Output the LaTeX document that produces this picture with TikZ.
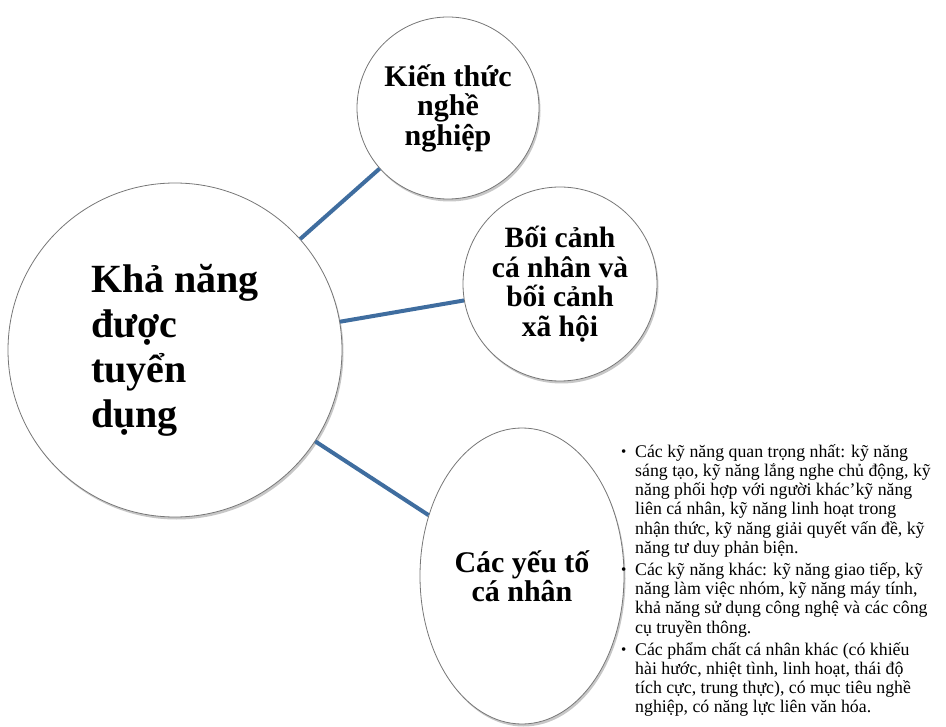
\documentclass[tikz,border=0pt]{standalone}
\usepackage{fontspec}
\setmainfont{Liberation Serif}
\usetikzlibrary{shadows,shapes.geometric}
\definecolor{linkblue}{HTML}{3F6D9F}
\definecolor{rim}{HTML}{777777}
\newcommand{\bul}{\makebox[14pt][l]{\fontsize{15}{15}\selectfont\raisebox{0.5pt}{•}}}
\newcommand{\ind}{\hspace*{14pt}}
\tikzset{
  bubble/.style={circle, draw=rim, line width=0.8pt, fill=white, inner sep=0pt, align=center,
     font=\bfseries\fontsize{29.5}{29.5}\selectfont,
     drop shadow={shadow xshift=1.5pt, shadow yshift=-2.5pt, opacity=0.22, fill=black}},
  link/.style={draw=linkblue, line width=4pt},
}
\begin{document}
\begin{tikzpicture}[x=1pt,y=-1pt]
\useasboundingbox (0,0) rectangle (946,727);
\node[bubble, minimum size=334pt, align=left, font=\bfseries\fontsize{40}{45}\selectfont] (main) at (175,350) {Khả năng\\được\\tuyển\\dụng};
\node[bubble, minimum size=182pt, font=\bfseries\fontsize{30}{29.5}\selectfont] (know) at (448,108) {Kiến thức\\nghề\\nghiệp};
\node[bubble, minimum size=194pt] (ctx) at (560,284) {Bối cảnh\\cá nhân và\\bối cảnh\\xã hội};
\node[bubble, ellipse, minimum width=204pt, minimum height=296pt, font=\bfseries\fontsize{30}{24}\selectfont] (pers) at (522,576) {Các yếu tố\\cá nhân};
\draw[link] (main) -- (know);
\draw[link] (main) -- (ctx);
\draw[link] (main) -- (pers);
\node[anchor=north west, align=left, inner sep=0pt, font=\fontsize{17.8}{19.3}\selectfont] (list) at (621,444) {%
\bul Các kỹ năng quan trọng nhất: kỹ năng\\
\ind sáng tạo, kỹ năng lắng nghe chủ động, kỹ\\
\ind năng phối hợp với người khác'kỹ năng\\
\ind liên cá nhân, kỹ năng linh hoạt trong\\
\ind nhận thức, kỹ năng giải quyết vấn đề, kỹ\\
\ind năng tư duy phản biện.\\[2.5pt]
\bul Các kỹ năng khác: kỹ năng giao tiếp, kỹ\\
\ind năng làm việc nhóm, kỹ năng máy tính,\\
\ind khả năng sử dụng công nghệ và các công\\
\ind cụ truyền thông.\\[2.5pt]
\bul Các phẩm chất cá nhân khác (có khiếu\\
\ind hài hước, nhiệt tình, linh hoạt, thái độ\\
\ind tích cực, trung thực), có mục tiêu nghề\\
\ind nghiệp, có năng lực liên văn hóa.};
\end{tikzpicture}
\end{document}
